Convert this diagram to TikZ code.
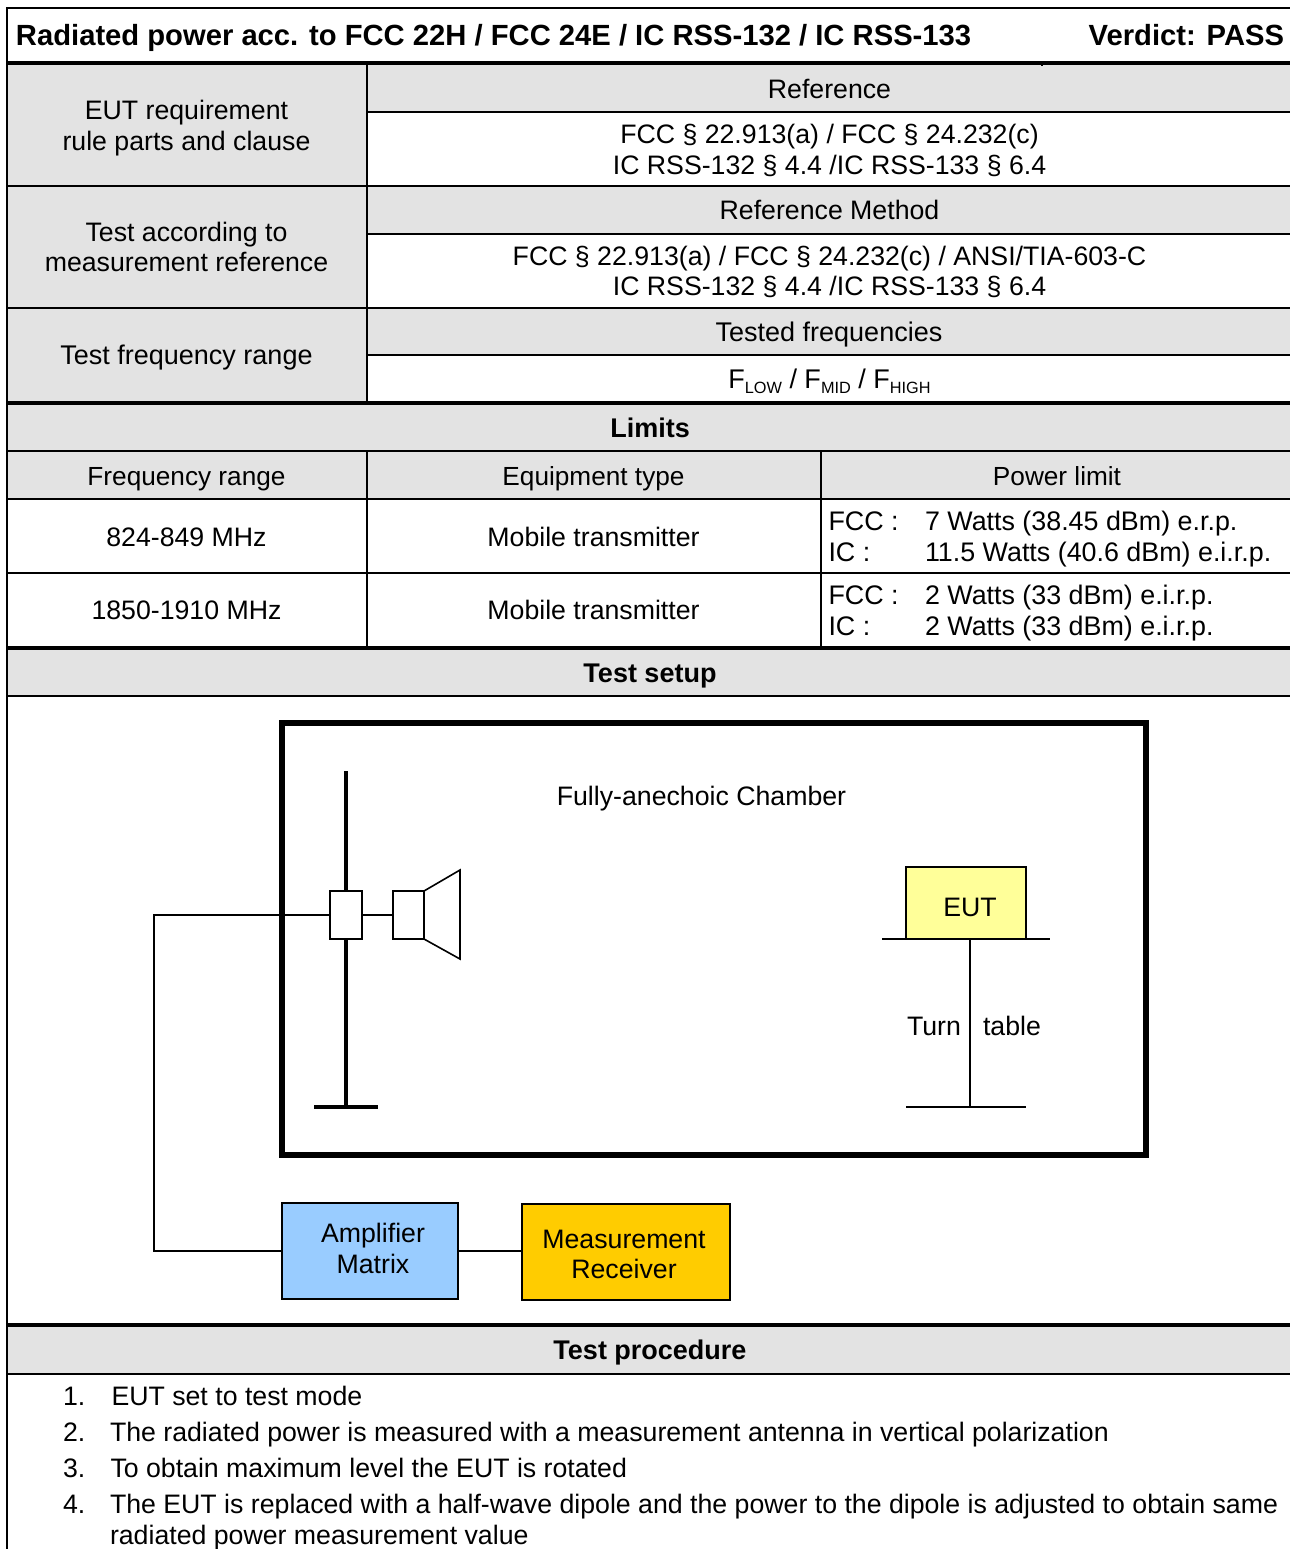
\documentclass[tikz,border=0pt]{standalone}
\usepackage{fontspec}
\setmainfont{Liberation Sans}
\newcommand{\bodyfont}{\fontsize{26.7}{31}\selectfont}
\newcommand{\headfont}{\fontsize{26.2}{31}\selectfont}
\newcommand{\limfont}{\fontsize{26.85}{31}\selectfont}
\newcommand{\subs}[1]{\raisebox{-5pt}{\fontsize{16.3}{18}\selectfont #1}}
\definecolor{headgray}{HTML}{E3E3E3}
\definecolor{ampblue}{HTML}{99CCFF}
\definecolor{recvgold}{HTML}{FFCC00}
\definecolor{eutyellow}{HTML}{FFFF99}
\tikzset{
  x=1pt,y=-1pt,
  txt/.style={font=\bodyfont,inner sep=0pt,outer sep=0pt,align=center,anchor=center},
  ltxt/.style={font=\bodyfont,inner sep=0pt,outer sep=0pt,anchor=base west},
  btxt/.style={font=\fontsize{27}{31}\selectfont\bfseries,inner sep=0pt,outer sep=0pt,anchor=base},
  titletxt/.style={font=\fontsize{29.2}{31}\selectfont\bfseries,inner sep=0pt,outer sep=0pt},
  hdr/.style={fill=headgray,draw=none},
  rulethin/.style={line width=1.6pt},
  rulethick/.style={line width=3.4pt},
  box/.style={draw,line width=1.6pt,inner sep=0pt,outer sep=0pt,font=\bodyfont,align=center,anchor=center},
  wire/.style={line width=1.6pt},
  mast/.style={line width=3.6pt},
}
\begin{document}
\begin{tikzpicture}
\useasboundingbox (0,0) rectangle (1290,1549);
\clip (0,0) rectangle (1290,1549);
\fill[white] (0,0) rectangle (1290,1549);
% grey header bands
\fill[hdr] (7,63) rectangle (367,403);
\fill[hdr] (367,63) rectangle (1290,112);
\fill[hdr] (367,186) rectangle (1290,234);
\fill[hdr] (367,308) rectangle (1290,355);
\fill[hdr] (7,403) rectangle (1290,499);
\fill[hdr] (7,648) rectangle (1290,696);
\fill[hdr] (7,1325) rectangle (1290,1374);
% table rules
\draw[rulethin] (7,8) -- (1290,8);
\draw[rulethin] (7,7.2) -- (7,1549);
\draw[rulethick] (7,63) -- (1290,63);
\draw[rulethin] (1042,63) -- (1042,66);
\draw[rulethin] (367,63) -- (367,403);
\draw[rulethin] (367,112) -- (1290,112);
\draw[rulethin] (7,186) -- (1290,186);
\draw[rulethin] (367,234) -- (1290,234);
\draw[rulethin] (7,308) -- (1290,308);
\draw[rulethin] (367,355) -- (1290,355);
\draw[rulethick] (7,403) -- (1290,403);
\draw[rulethin] (7,451) -- (1290,451);
\draw[rulethin] (7,499) -- (1290,499);
\draw[rulethin] (7,573) -- (1290,573);
\draw[rulethin] (367,451) -- (367,648);
\draw[rulethin] (821,451) -- (821,648);
\draw[rulethick] (7,648) -- (1290,648);
\draw[rulethin] (7,696) -- (1290,696);
\draw[rulethick] (7,1325) -- (1290,1325);
\draw[rulethin] (7,1374) -- (1290,1374);
% title
\node[titletxt,anchor=base west] (title) at (16,46) {Radiated power acc. to FCC 22H / FCC 24E / IC RSS-132 / IC RSS-133};
\node[titletxt,anchor=base east] (verdict) at (1284,46) {Verdict: PASS};
% left column
\node[txt] (t1) at (186.5,128.5) {\strut EUT requirement\\\strut rule parts and clause};
\node[txt] (t2) at (186.5,250) {\strut Test according to\\[-1pt]\strut measurement reference};
\node[txt,font=\fontsize{27}{31}\selectfont] (t3) at (186.5,357.8) {\strut Test frequency range};
% right column
\node[txt] (r1) at (829.5,92.8) {\strut Reference};
\node[txt] (r2) at (829.5,153.3) {\strut FCC § 22.913(a) / FCC § 24.232(c)\\\strut IC RSS-132 § 4.4 /IC RSS-133 § 6.4};
\node[txt] (r3) at (829.5,213.3) {\strut Reference Method};
\node[txt] (r4) at (829.5,274) {\strut FCC § 22.913(a) / FCC § 24.232(c) / ANSI/TIA-603-C\\[-1pt]\strut IC RSS-132 § 4.4 /IC RSS-133 § 6.4};
\node[txt,font=\fontsize{27}{31}\selectfont] (r5) at (829,334.8) {\strut Tested frequencies};
\node[txt,font=\fontsize{27}{31}\selectfont] (r6) at (829.5,381.8) {\strut F\subs{LOW} / F\subs{MID} / F\subs{HIGH}};
% limits
\node[btxt] (limits) at (650,437) {Limits};
\node[txt,font=\headfont] (l1) at (186.5,478.8) {\strut Frequency range};
\node[txt,font=\headfont] (l2) at (593.5,478.8) {\strut Equipment type};
\node[txt,font=\headfont] (l3) at (1057,478.8) {\strut Power limit};
\node[txt] (a1) at (186.5,539.8) {\strut 824-849 MHz};
\node[txt] (a2) at (593.5,539.8) {\strut Mobile transmitter};
\node[ltxt,font=\limfont] (a3) at (828.5,530) {FCC :};
\node[ltxt,font=\limfont] (a4) at (925,530) {7 Watts (38.45 dBm) e.r.p.};
\node[ltxt,font=\limfont] (a5) at (828.5,561) {IC :};
\node[ltxt,font=\limfont] (a6) at (925,561) {11.5 Watts (40.6 dBm) e.i.r.p.};
\node[txt] (b1) at (186.5,612.8) {\strut 1850-1910 MHz};
\node[txt] (b2) at (593.5,612.8) {\strut Mobile transmitter};
\node[ltxt,font=\limfont] (b3) at (828.5,604) {FCC :};
\node[ltxt,font=\limfont] (b4) at (925,604) {2 Watts (33 dBm) e.i.r.p.};
\node[ltxt,font=\limfont] (b5) at (828.5,635) {IC :};
\node[ltxt,font=\limfont] (b6) at (925,635) {2 Watts (33 dBm) e.i.r.p.};
% setup
\node[btxt] (setup) at (650,682) {Test setup};
\node[draw,line width=6pt,inner sep=0pt,outer sep=0pt,minimum width=864pt,minimum height=432.3pt,anchor=center] (chamber) at (714,938.85) {};
\node[txt] (chlabel) at (701.5,798.8) {\strut Fully-anechoic Chamber};
% mast and antenna
\coordinate (masttop) at (346,771);
\coordinate (mastfoot) at (346,1107);
\coordinate (footl) at (314,1107);
\coordinate (footr) at (378,1107);
\node[box,minimum width=32pt,minimum height=48pt] (coupler) at (346,915) {};
\node[box,minimum width=31pt,minimum height=48pt] (horn) at (408.5,915) {};
\coordinate (hornt) at (460,870);
\coordinate (hornb) at (460,959);
\draw[mast] (masttop) -- (coupler.north);
\draw[mast] (coupler.south) -- (mastfoot);
\draw[mast] (footl) -- (footr);
\draw[wire,line join=miter] (horn.north east) -- (hornt) -- (hornb) -- (horn.south east);
\draw[wire] (coupler.east) -- (horn.west);
% instruments
\node[box,fill=ampblue,minimum width=176pt,minimum height=96pt] (amp) at (370,1251) {\hspace*{6pt}\rule{0pt}{23.5pt}Amplifier\\\hspace*{6pt}\strut Matrix};
\node[box,fill=recvgold,minimum width=208pt,minimum height=96pt] (recv) at (626,1252) {\rule{0pt}{31.7pt}Measurement\hspace*{4pt}\\[-1pt]\strut Receiver\hspace*{4pt}};
\coordinate (bend) at (154,1251);
\draw[wire] (coupler.west) -- (154,915) -- (bend) -- (amp.west);
\draw[wire] (amp.east) -- (amp.east -| recv.west);
% EUT and turntable
\node[box,fill=eutyellow,minimum width=120pt,minimum height=72pt] (eut) at (966,903) {\hspace*{8pt}\rule{0pt}{27.7pt}EUT};
\coordinate (tablel) at (882,939);
\coordinate (tabler) at (1050,939);
\coordinate (tabletop) at (970,939);
\coordinate (tablefoot) at (970,1107);
\coordinate (basel) at (906,1107);
\coordinate (baser) at (1026,1107);
\draw[wire] (tablel) -- (tabler);
\draw[wire] (tabletop) -- (tablefoot);
\draw[wire] (basel) -- (baser);
\node[txt] (turn) at (934,1028.8) {\strut Turn};
\node[txt] (table) at (1012,1028.8) {\strut table};
% procedure
\node[btxt] (proc) at (650,1359) {Test procedure};
\node[ltxt] (n1) at (63,1405) {1.};
\node[ltxt] (s1) at (111.5,1405) {EUT set to test mode};
\node[ltxt] (n2) at (63,1441) {2.};
\node[ltxt] (s2) at (110,1441) {The radiated power is measured with a measurement antenna in vertical polarization};
\node[ltxt] (n3) at (63,1477) {3.};
\node[ltxt] (s3) at (110.5,1477) {To obtain maximum level the EUT is rotated};
\node[ltxt] (n4) at (63,1513) {4.};
\node[ltxt] (s4) at (110,1513) {The EUT is replaced with a half-wave dipole and the power to the dipole is adjusted to obtain same};
\node[ltxt] (s5) at (110,1544) {radiated power measurement value};
\end{tikzpicture}
\end{document}
